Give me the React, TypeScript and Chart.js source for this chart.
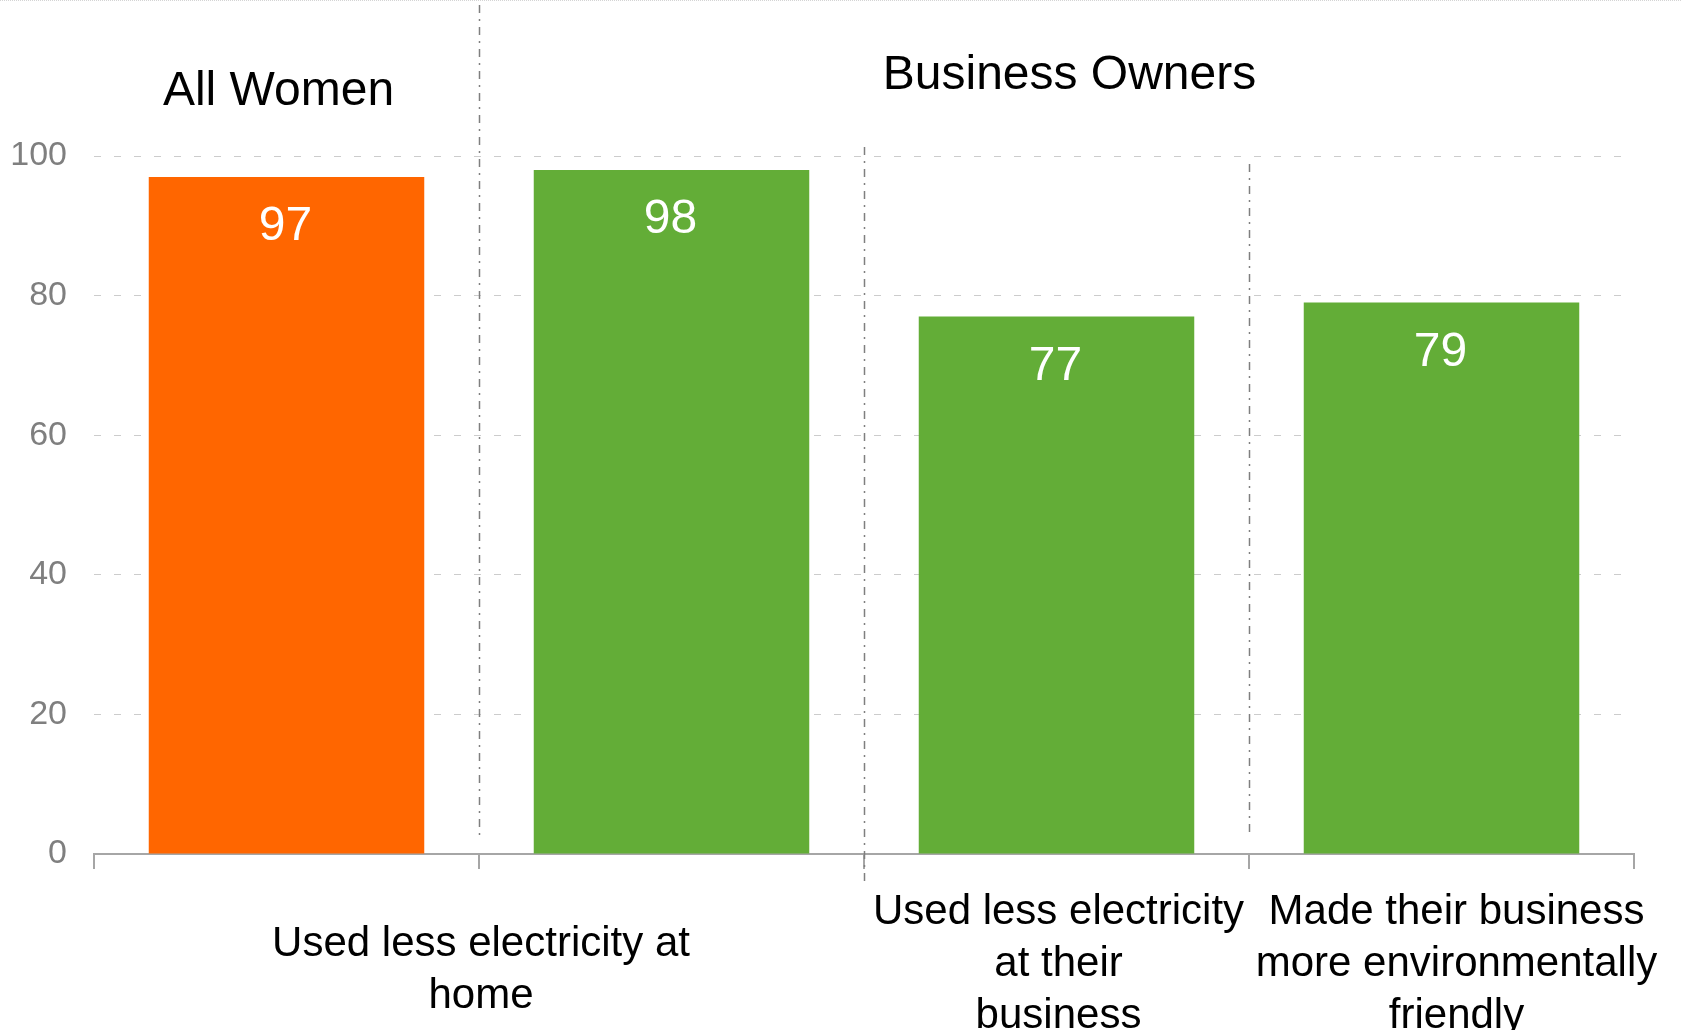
import React, { useEffect, useRef } from "react";
import { Chart, registerables } from "chart.js";

Chart.register(...registerables);

// ---- data ----
const categories = [
  "All Women: used less electricity at home",
  "Business Owners: used less electricity at home",
  "Business Owners: used less electricity at their business",
  "Business Owners: made their business more environmentally friendly",
];
const values = [97, 98, 77, 79];
const barColors = ["#FF6600", "#63AD37", "#63AD37", "#63AD37"];
const groupTitles = ["All Women", "Business Owners"];
// x-axis captions (first one spans the first two bars)
const axisCaptions = [
  ["Used less electricity at", "home"],
  ["Used less electricity", "at their", "business"],
  ["Made their business", "more environmentally", "friendly"],
];
const yMin = 0;
const yMax = 100;
const yStep = 20;

const FONT = "'Liberation Sans', Arial, Helvetica, sans-serif";

const decorPlugin = {
  id: "decor",
  beforeDraw(chart: any) {
    const ctx = chart.ctx;
    ctx.save();
    ctx.strokeStyle = "#d4d4d4";
    ctx.lineWidth = 1;
    ctx.setLineDash([1, 1]);
    ctx.beginPath();
    ctx.moveTo(0, 0.5);
    ctx.lineTo(chart.width, 0.5);
    ctx.stroke();
    ctx.restore();
  },
  afterDatasetsDraw(chart: any) {
    const ctx = chart.ctx;
    const x = chart.scales.x;
    const meta = chart.getDatasetMeta(0);
    const px = (i: number) => x.getPixelForValue(i);
    const boundary = (i: number) => (px(i - 1) + px(i)) / 2;

    // separators (dash-dot)
    const seps = [
      { i: 1, y0: 5, y1: 836 },
      { i: 2, y0: 147, y1: 881 },
      { i: 3, y0: 164, y1: 832 },
    ];
    ctx.save();
    ctx.strokeStyle = "#7f7f7f";
    ctx.lineWidth = 1.5;
    ctx.setLineDash([8, 6, 2, 6]);
    seps.forEach((s) => {
      const bx = Math.round(boundary(s.i)) + 0.5;
      ctx.beginPath();
      ctx.moveTo(bx, s.y0);
      ctx.lineTo(bx, s.y1);
      ctx.stroke();
    });
    ctx.restore();

    // value labels
    ctx.save();
    ctx.fillStyle = "#ffffff";
    ctx.font = `48px ${FONT}`;
    ctx.textAlign = "center";
    ctx.textBaseline = "alphabetic";
    meta.data.forEach((bar: any, i: number) => {
      ctx.fillText(String(values[i]), bar.x - 1, bar.y + 63);
    });
    ctx.restore();

    // group titles
    ctx.save();
    ctx.fillStyle = "#000000";
    ctx.font = `48px ${FONT}`;
    ctx.textAlign = "center";
    ctx.textBaseline = "alphabetic";
    ctx.fillText(groupTitles[0], px(0) - 8, 105);
    ctx.fillText(groupTitles[1], (px(1) + px(3)) / 2 + 13, 89);
    ctx.restore();

    // axis captions
    ctx.save();
    ctx.fillStyle = "#000000";
    ctx.font = `42px ${FONT}`;
    ctx.textAlign = "center";
    ctx.textBaseline = "alphabetic";
    const centers = [boundary(1) + 2, px(2) + 2, px(3) + 15];
    const firstBase = [956, 924, 924];
    axisCaptions.forEach((lines, k) => {
      lines.forEach((ln, j) => {
        ctx.fillText(ln, centers[k], firstBase[k] + j * 52);
      });
    });
    ctx.restore();
  },
};

export default function App() {
  const ref = useRef<HTMLCanvasElement | null>(null);

  useEffect(() => {
    if (!ref.current) return;
    const chart = new Chart(ref.current, {
      type: "bar",
      data: {
        labels: categories,
        datasets: [
          {
            data: values,
            backgroundColor: barColors,
            borderWidth: 0,
            categoryPercentage: 1,
            barPercentage: 0.7156,
          },
        ],
      },
      options: {
        animation: false,
        responsive: false,
        events: [],
        layout: { padding: { top: 156, right: 47, bottom: 0, left: 0 } },
        plugins: {
          legend: { display: false },
          tooltip: { enabled: false },
          title: { display: false },
        },
        scales: {
          x: {
            type: "category",
            afterFit: (s: any) => {
              s.height = 176;
            },
            ticks: { display: false },
            grid: {
              offset: true,
              drawOnChartArea: false,
              drawTicks: true,
              tickLength: 15,
              color: "#a6a6a6",
              lineWidth: 2,
            },
            border: { display: true, color: "#a6a6a6", width: 2 },
          },
          y: {
            min: yMin,
            max: yMax,
            afterFit: (s: any) => {
              s.width = 94;
            },
            ticks: {
              stepSize: yStep,
              padding: 27,
              color: "#7f7f7f",
              font: { family: FONT, size: 34 },
            },
            grid: {
              drawTicks: false,
              color: "#cccccc",
              lineWidth: 1,
            },
            border: { display: false, dash: [7, 13] },
          },
        },
      },
      plugins: [decorPlugin],
    });
    return () => chart.destroy();
  }, []);

  return (
    <div style={{ position: "absolute", left: 0, top: 0, width: 1681, height: 1030, background: "#fff" }}>
      <canvas ref={ref} width={1681} height={1030} style={{ display: "block" }} />
    </div>
  );
}
